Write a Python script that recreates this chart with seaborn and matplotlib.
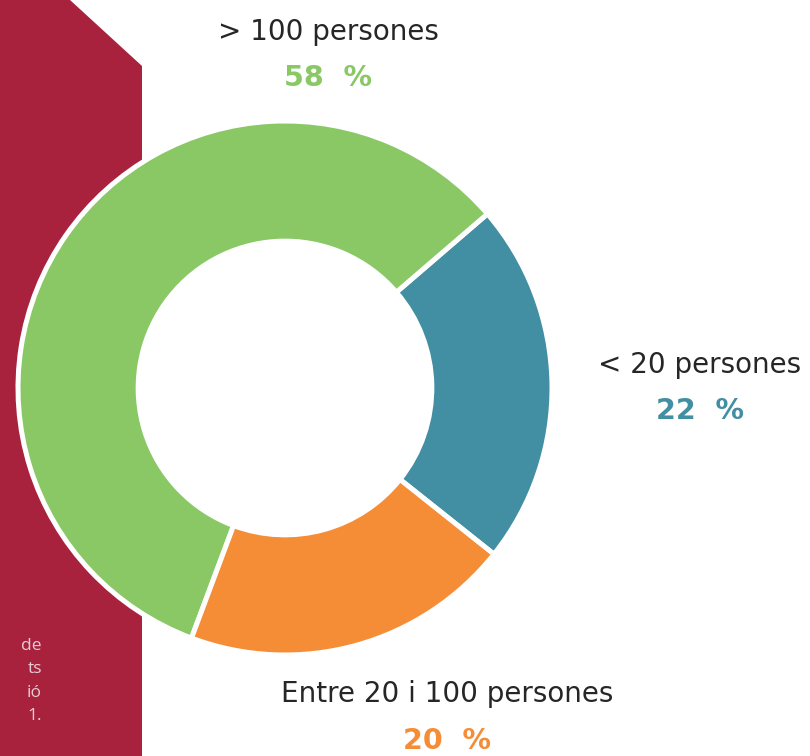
import matplotlib
matplotlib.use("Agg")
import matplotlib.pyplot as plt
from matplotlib.patches import Polygon, Circle
import seaborn as sns

# Data
categories = ["< 20 persones", "> 100 persones", "Entre 20 i 100 persones"]
values = [22, 58, 20]
pct_labels = ["22 %", "58 %", "20 %"]
colors = ["#428EA2", "#8AC866", "#F58D37"]
side_fragments = ["de", "ts", "ió", "1."]

sns.set_theme(style="white")
plt.rcParams["font.family"] = ["DejaVu Sans"]

W, H = 810, 756
fig = plt.figure(figsize=(W / 100, H / 100), dpi=100)
fig.patch.set_facecolor("white")

# background overlay axes in pixel coordinates
bg = fig.add_axes([0, 0, 1, 1], zorder=0)
bg.set_xlim(0, W)
bg.set_ylim(H, 0)
bg.axis("off")
bg.add_patch(Polygon([(0, 0), (70, 0), (142, 66), (142, H), (0, H)],
                     closed=True, facecolor="#A8223E", edgecolor="none"))
for i, frag in enumerate(side_fragments):
    bg.text(42, 646 + i * 23.3, frag, ha="right", va="center",
            fontsize=12.5, color="#E6CDD3", family=["Open Sans", "DejaVu Sans"])

# donut axes
cx, cy, r = 285, 388, 267
ax = fig.add_axes([(cx - r) / W, 1 - (cy + r) / H, 2 * r / W, 2 * r / H], zorder=1)
ax.add_patch(Circle((0, 0), 0.56, facecolor="white", edgecolor="none", zorder=0))
ax.pie(values, colors=colors, startangle=-38.5, counterclock=True, radius=1,
       wedgeprops=dict(width=0.45, edgecolor="white", linewidth=3.6))
ax.set_xlim(-1, 1)
ax.set_ylim(-1, 1)
ax.set_aspect("equal")
ax.axis("off")

# labels
label_pos = [(700, 365, 411), (328, 32, 78), (447, 694, 741)]
for cat, pct, col, (x, y1, y2) in zip(categories, pct_labels, colors, label_pos):
    bg.text(x, y1, cat, ha="center", va="center", fontsize=20, color="#262626",
            family=["DejaVu Sans"])
    bg.text(x, y2, pct.replace(" ", "  "), ha="center", va="center", fontsize=20.5,
            color=col, fontweight="bold", family=["DejaVu Sans"])

fig.savefig("out.png", dpi=100)
